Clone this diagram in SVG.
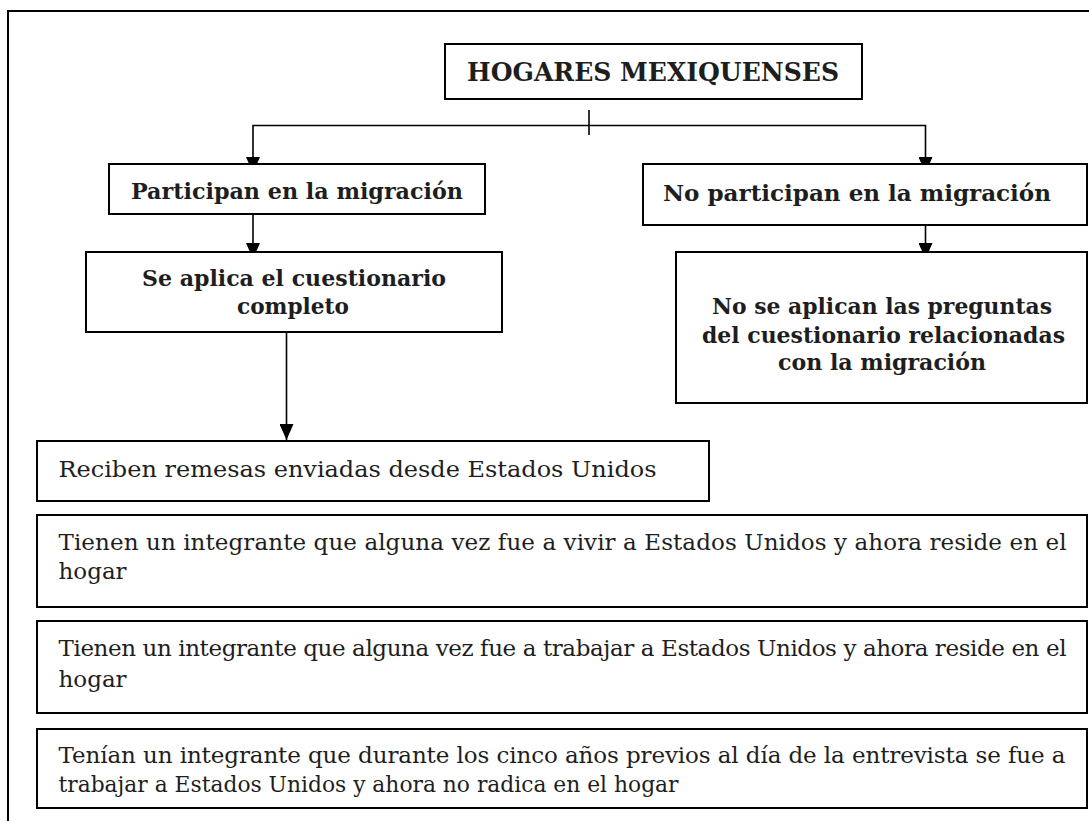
<svg xmlns="http://www.w3.org/2000/svg" width="1089" height="821" viewBox="0 0 1089 821">
<style>
.box{fill:#fff;stroke:#000;stroke-width:2}
.frame{fill:none;stroke:#000;stroke-width:2}
.conn{fill:none;stroke:#000;stroke-width:1.6}
.b{font-family:"DejaVu Serif","Liberation Serif",serif;font-weight:bold;fill:#1e1e1e}
.r{font-family:"DejaVu Serif","Liberation Serif",serif;font-weight:normal;fill:#1e1e1e;font-size:23px}
.t1{font-size:26px}
.t2{font-size:22px}
</style>
<defs>
<marker id="arr" markerUnits="userSpaceOnUse" viewBox="0 0 16 14" refX="16" refY="7" markerWidth="16" markerHeight="14" orient="auto">
<path d="M0,0 L16,7 L0,14 z" fill="#000"/>
</marker>
</defs>
<rect width="1089" height="821" fill="#fff"/>
<path class="frame" d="M8,822 V11 H1090"/>

<g id="connectors">
<path class="conn" d="M589,110 V135"/>
<path class="conn" d="M589,125.5 H253 V173" marker-end="url(#arr)"/>
<path class="conn" d="M589,125.5 H925.5 V173" marker-end="url(#arr)"/>
<path class="conn" d="M253,214 V259" marker-end="url(#arr)"/>
<path class="conn" d="M925.5,225 V259" marker-end="url(#arr)"/>
<path class="conn" d="M286.5,332 V440" marker-end="url(#arr)"/>
</g>

<g id="hogares">
<rect class="box" x="445" y="44" width="417" height="55"/>
<text class="b t1" x="467" y="81" textLength="372" lengthAdjust="spacingAndGlyphs">HOGARES MEXIQUENSES</text>
</g>

<g id="participan">
<rect class="box" x="109" y="164" width="376" height="50"/>
<text class="b t2" x="131" y="199" textLength="332" lengthAdjust="spacingAndGlyphs">Participan en la migración</text>
</g>

<g id="no-participan">
<rect class="box" x="643" y="164" width="444" height="61"/>
<text class="b t2" x="663" y="200.5" textLength="388" lengthAdjust="spacingAndGlyphs">No participan en la migración</text>
</g>

<g id="se-aplica">
<rect class="box" x="86" y="252" width="416" height="80"/>
<text class="b t2" x="142" y="285.5" textLength="304" lengthAdjust="spacingAndGlyphs">Se aplica el cuestionario</text>
<text class="b t2" x="237" y="314" textLength="112" lengthAdjust="spacingAndGlyphs">completo</text>
</g>

<g id="no-se-aplican">
<rect class="box" x="676" y="252" width="411" height="151"/>
<text class="b t2" x="712" y="314" textLength="340" lengthAdjust="spacingAndGlyphs">No se aplican las preguntas</text>
<text class="b t2" x="702" y="342.5" textLength="363" lengthAdjust="spacingAndGlyphs">del cuestionario relacionadas</text>
<text class="b t2" x="778" y="370" textLength="208" lengthAdjust="spacingAndGlyphs">con la migración</text>
</g>

<g id="reciben">
<rect class="box" x="37" y="441" width="672" height="60"/>
<text class="r" x="58.5" y="477" textLength="598" lengthAdjust="spacingAndGlyphs">Reciben remesas enviadas desde Estados Unidos</text>
</g>

<g id="vivir">
<rect class="box" x="37" y="515" width="1050" height="92"/>
<text class="r" x="58.5" y="550" textLength="1008" lengthAdjust="spacing">Tienen un integrante que alguna vez fue a vivir a Estados Unidos y ahora reside en el</text>
<text class="r" x="58.5" y="578.5">hogar</text>
</g>

<g id="trabajar">
<rect class="box" x="37" y="621" width="1050" height="92"/>
<text class="r" x="58.5" y="655.5" textLength="1008" lengthAdjust="spacing">Tienen un integrante que alguna vez fue a trabajar a Estados Unidos y ahora reside en el</text>
<text class="r" x="58.5" y="686.5">hogar</text>
</g>

<g id="tenian">
<rect class="box" x="37" y="729" width="1050" height="79"/>
<text class="r" x="58.5" y="762.5" textLength="1007" lengthAdjust="spacing">Tenían un integrante que durante los cinco años previos al día de la entrevista se fue a</text>
<text class="r" x="58.5" y="791.5" textLength="620" lengthAdjust="spacingAndGlyphs">trabajar a Estados Unidos y ahora no radica en el hogar</text>
</g>
</svg>
